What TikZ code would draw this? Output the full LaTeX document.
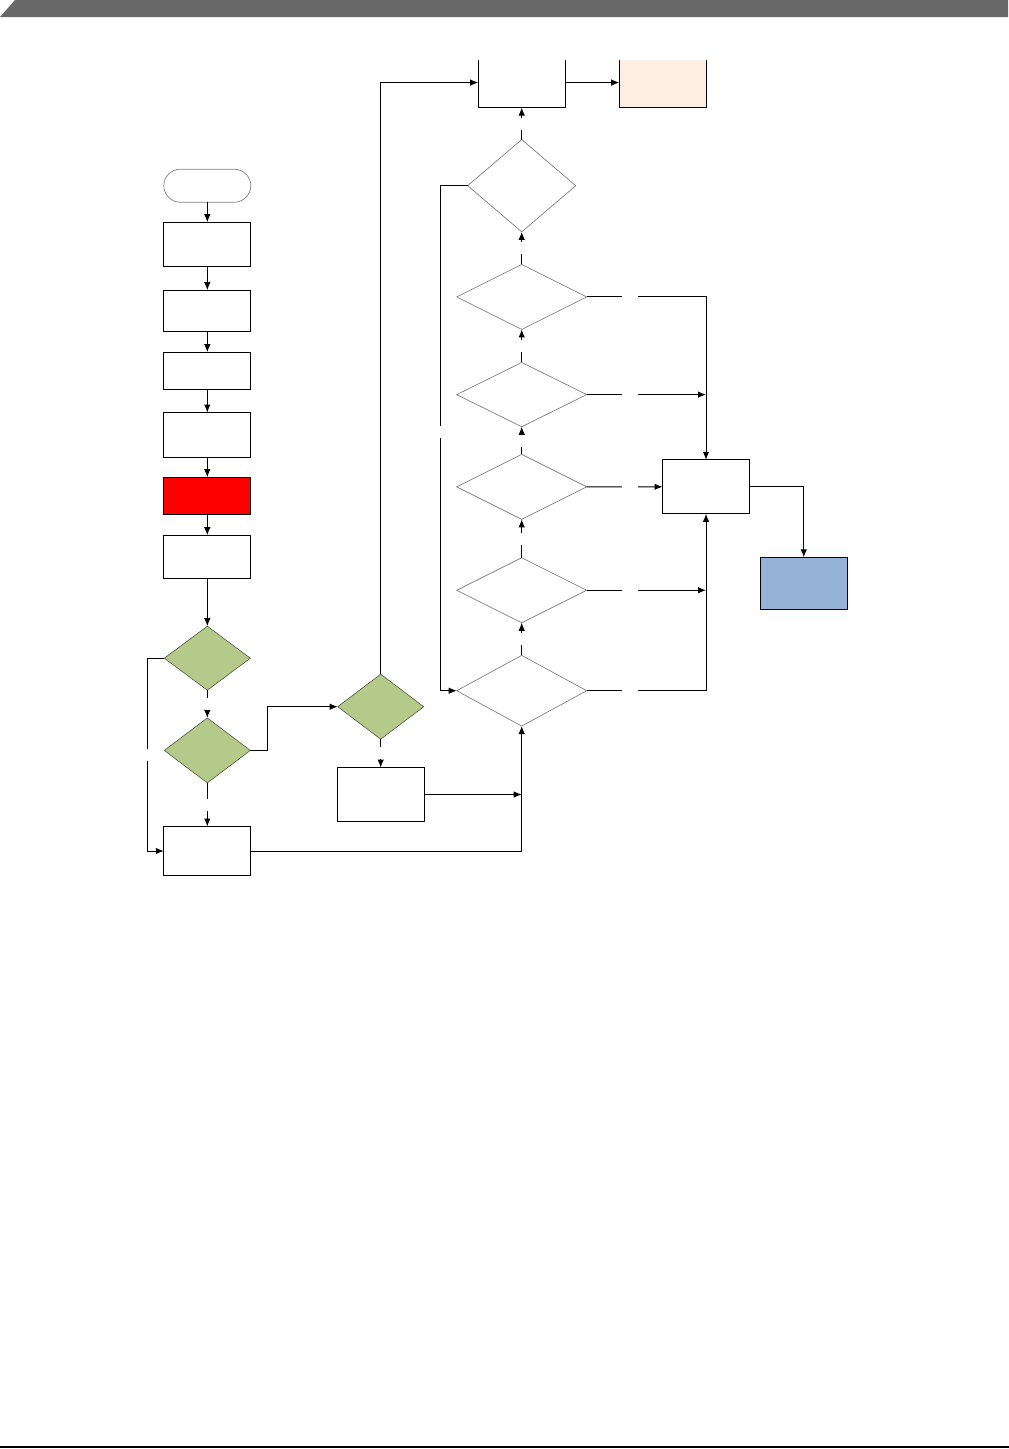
\documentclass[tikz,border=0pt]{standalone}
\usetikzlibrary{positioning}
\usetikzlibrary{shapes}
\usetikzlibrary{arrows.meta}

\definecolor{bandgray}{RGB}{104,104,104}
\definecolor{decgreen}{RGB}{181,201,138}
\definecolor{endblue}{RGB}{149,179,215}
\definecolor{peach}{RGB}{252,238,226}

\tikzset{
  box/.style={draw, rectangle, line width=1.1pt, minimum width=87pt, inner sep=0pt, outer sep=0pt},
  test/.style={draw=gray, shape=diamond, line width=0.7pt, inner sep=0pt, outer sep=0pt, minimum width=130pt, minimum height=65pt},
  gtest/.style={draw=decgreen!45!black, fill=decgreen, shape=diamond, line width=0.6pt, inner sep=0pt, outer sep=0pt, minimum width=86pt, minimum height=65pt},
  gapv/.style={fill=white, inner sep=0pt, minimum width=5pt, minimum height=12pt},
  gaph/.style={fill=white, inner sep=0pt, minimum width=16pt, minimum height=5pt},
  flow/.style={line width=1pt, -{Latex[length=8pt,width=6.5pt]}}
}

\begin{document}
\begin{tikzpicture}[x=1pt, y=-1pt]
    \useasboundingbox (0,0) rectangle (1009,1449);
    % page band and rule
    \fill[bandgray] (0,17) -- (15,0) -- (1008,0) -- (1008,17) -- cycle;
    \draw[line width=1.5pt] (0,1447) -- (1009,1447);

    % start
    \node[draw=gray, rounded rectangle, line width=0.7pt, minimum width=87pt, minimum height=33pt, inner sep=0pt, outer sep=0pt] (S) at (207.3,185.7) {};
    % setup steps
    \node[box, minimum height=44.3pt, below=20pt of S] (A1) {};
    \node[box, minimum height=41.3pt, below=23.7pt of A1] (A2) {};
    \node[box, minimum height=37.3pt, below=20.7pt of A2] (A3) {};
    \node[box, minimum height=44.7pt, below=23pt of A3] (A4) {};
    \node[box, fill=red, minimum height=37.3pt, below=20pt of A4] (A5) {};
    \node[box, minimum height=43.3pt, below=20.7pt of A5] (A6) {};
    \draw[flow] (S) -- (A1);
    \draw[flow] (A1) -- (A2);
    \draw[flow] (A2) -- (A3);
    \draw[flow] (A3) -- (A4);
    \draw[flow] (A4) -- (A5);
    \draw[flow] (A5) -- (A6);
    % green tests
    \node[gtest, minimum height=64pt, below=47.7pt of A6] (D1) {};
    \node[gtest, below=27.7pt of D1] (D2) {};
    \node[box, minimum height=49pt, below=43.6pt of D2] (B7) {};
    \draw[flow] (A6) -- (D1);
    \draw[flow] (D1) -- node[gapv]{} (D2);
    \draw[flow] (D2) -- node[gapv]{} (B7);
    \draw[flow] (D1.west) -- ++(-17,0) |- node[gapv, pos=0.25]{} (B7.west);
    \node[gtest] (D3) at (380.7,706.7) {};
    \node[box, minimum height=54pt, below=28.3pt of D3] (B8) {};
    \draw[flow] (D2.east) -- ++(17,0) |- (D3.west);
    \draw[flow] (D3) -- node[gapv]{} (B8);

    % right column of tests
    \node[test, minimum height=70.7pt] (Q6) at (521.7,690.7) {};
    \node[test, above=32.6pt of Q6] (Q5) {};
    \node[test, above=38.4pt of Q5] (Q4) {};
    \node[test, minimum height=64.3pt, above=27.6pt of Q4] (Q3) {};
    \node[test, above=33pt of Q3] (Q2) {};
    \node[test, minimum width=108pt, minimum height=92.3pt, above=32.6pt of Q2] (Q1) {};
    \draw[flow] (Q6) -- node[gapv]{} (Q5);
    \draw[flow] (Q5) -- node[gapv]{} (Q4);
    \draw[flow] (Q4) -- node[gapv]{} (Q3);
    \draw[flow] (Q3) -- node[gapv]{} (Q2);
    \draw[flow] (Q2) -- node[gapv]{} (Q1);
    \draw[flow] (B8.east) -- (B8.east -| Q6.south);
    \draw[flow] (B7.east) -| (Q6.south);
    \draw[flow] (Q1.west) -- ++(-27,0) |- node[gapv, pos=0.244]{} (Q6.west);

    % top boxes, cut at the page edge
    \begin{scope}
        \clip (0,60) rectangle (1009,1449);
        \node[box, minimum height=50pt, above=32pt of Q1] (T1) {};
        \node[box, fill=peach, minimum height=50pt, right=54pt of T1] (T2) {};
    \end{scope}
    \draw[flow] (Q1) -- node[gapv]{} (T1);
    \draw[flow] (T1) -- (T2);
    \draw[flow] (D3.north) |- (T1.west);

    % collecting box and end
    \node[box, minimum height=54pt] (M) at (706,486.8) {};
    \node[box, fill=endblue, minimum height=52pt] (E) at (803.8,583.3) {};
    \draw[flow] (Q2.east) -| node[gaph, pos=0.18]{} (M.north);
    \draw[flow] (Q3.east) -- node[gaph, pos=0.363]{} (Q3.east -| M.north);
    \draw[flow] (Q4.east) -- node[gaph, pos=0.573]{} (M.west);
    \draw[flow] (Q5.east) -- node[gaph, pos=0.363]{} (Q5.east -| M.south);
    \draw[flow] (Q6.east) -| node[gaph, pos=0.18]{} (M.south);
    \draw[flow] (M.east) -| (E.north);
\end{tikzpicture}
\end{document}
